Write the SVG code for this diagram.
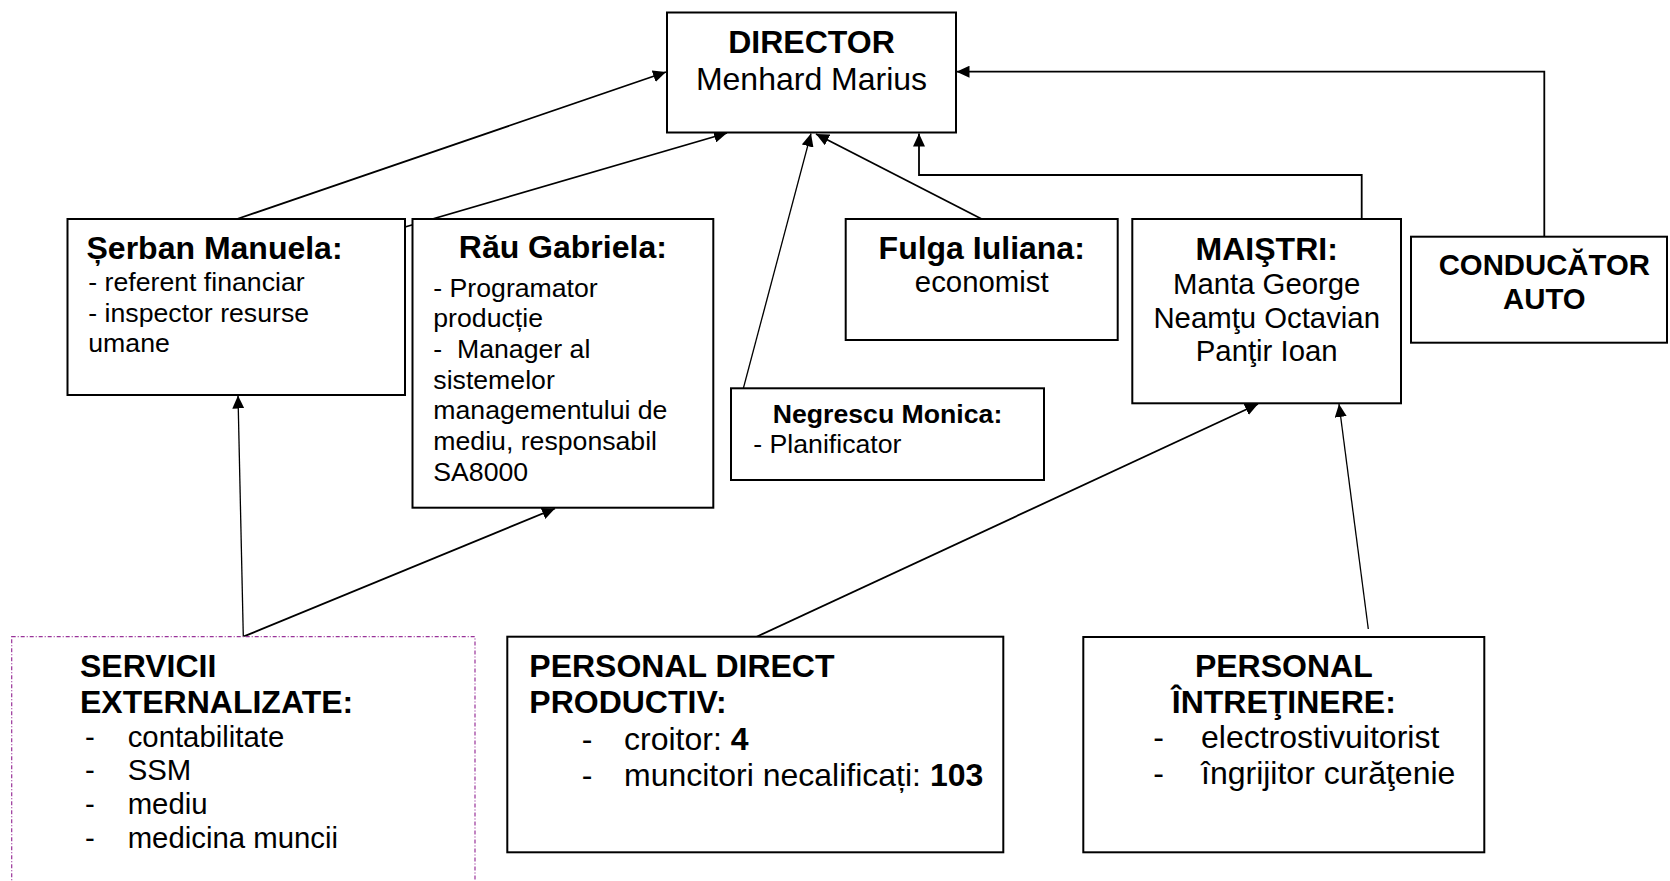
<svg xmlns="http://www.w3.org/2000/svg" width="1670" height="881" viewBox="0 0 1670 881">
<defs>
<marker id="ah" markerUnits="userSpaceOnUse" markerWidth="14" markerHeight="12" refX="13" refY="6" orient="auto">
<path d="M0,0 L13,6 L0,12 z" fill="#000"/>
</marker>
<style>
.box{fill:#fff;stroke:#000;stroke-width:2}
.dbox{fill:#fff;stroke:#993399;stroke-width:1.2;stroke-dasharray:4 2 1 2}
.c{fill:none;stroke:#000;stroke-width:1.8;marker-end:url(#ah)}
.t{stroke-width:1.3}
text{font-family:"Liberation Sans",Arial,sans-serif;fill:#000}
.h{font-weight:bold;font-size:32px}
.h2{font-weight:bold;font-size:29.33px}
.h3{font-weight:bold;font-size:26.67px}
.r32{font-size:32px}
.r29{font-size:29.33px}
.r27{font-size:26.67px}
.m{text-anchor:middle}
</style>
</defs>
<g id="connectors">
<line class="c" x1="237" y1="219" x2="666" y2="72"/>
<line class="c" x1="405" y1="227" x2="727" y2="133"/>
<line class="c t" x1="731.5" y1="433" x2="811" y2="133.5"/>
<line class="c" x1="981.7" y1="219" x2="816" y2="134"/>
<polyline class="c" points="1361.7,219 1361.7,175 919,175 919,133.5"/>
<polyline class="c" points="1544.3,237 1544.3,71.7 956.5,71.7"/>
<line class="c t" x1="243.3" y1="636.7" x2="238" y2="395.5"/>
<line class="c" x1="243.3" y1="636.7" x2="555" y2="508.5"/>
<line class="c" x1="756.7" y1="636.7" x2="1258" y2="404"/>
<line class="c t" x1="1368.3" y1="629" x2="1339" y2="404"/>
</g>
<g id="director">
<rect class="box" x="667" y="12.5" width="289" height="120"/>
<text class="h m" x="811.5" y="53.3">DIRECTOR</text>
<text class="r32 m" x="811.5" y="90">Menhard Marius</text>
</g>
<g id="serban">
<rect class="box" x="67.5" y="219" width="337.5" height="176"/>
<text class="h" x="86.5" y="259.3" font-size="31.4px">Șerban Manuela:</text>
<text class="r27" x="88.3" y="291">- referent financiar</text>
<text class="r27" x="88.3" y="321.7">- inspector resurse</text>
<text class="r27" x="88.3" y="352.3">umane</text>
</g>
<g id="rau">
<rect class="box" x="412.5" y="219" width="300.8" height="288.7"/>
<text class="h m" x="562.8" y="258.3">Rău Gabriela:</text>
<text class="r27" x="433.3" y="296.7">- Programator</text>
<text class="r27" x="433.3" y="327.3">producție</text>
<text class="r27" x="433.3" y="358" xml:space="preserve">-  Manager al</text>
<text class="r27" x="433.3" y="388.7">sistemelor</text>
<text class="r27" x="433.3" y="419.3">managementului de</text>
<text class="r27" x="433.3" y="450">mediu, responsabil</text>
<text class="r27" x="433.3" y="480.7">SA8000</text>
</g>
<g id="negrescu">
<rect class="box" x="731" y="388.3" width="313" height="91.7"/>
<text class="h3 m" x="887.5" y="423.3">Negrescu Monica:</text>
<text class="r27" x="753.3" y="453.3">- Planificator</text>
</g>
<g id="fulga">
<rect class="box" x="845.7" y="219" width="272" height="121"/>
<text class="h m" x="981.7" y="259.3">Fulga Iuliana:</text>
<text class="r29 m" x="981.7" y="291.7">economist</text>
</g>
<g id="maistri">
<rect class="box" x="1132.3" y="219" width="268.7" height="184.3"/>
<text class="h m" x="1266.7" y="260">MAIŞTRI:</text>
<text class="r29 m" x="1266.7" y="294">Manta George</text>
<text class="r29 m" x="1266.7" y="327.5">Neamţu Octavian</text>
<text class="r29 m" x="1266.7" y="361">Panţir Ioan</text>
</g>
<g id="conducator">
<rect class="box" x="1411" y="236.7" width="256" height="106"/>
<text class="h2 m" x="1544.3" y="275">CONDUCĂTOR</text>
<text class="h2 m" x="1544.3" y="308.5">AUTO</text>
</g>
<g id="servicii">
<rect class="dbox" x="11.7" y="636.7" width="463.3" height="260"/>
<text class="h" x="80" y="676.7">SERVICII</text>
<text class="h" x="80" y="713.3">EXTERNALIZATE:</text>
<text class="r29" x="85" y="746.7">-</text>
<text class="r29" x="127.7" y="746.7">contabilitate</text>
<text class="r29" x="85" y="780.4">-</text>
<text class="r29" x="127.7" y="780.4">SSM</text>
<text class="r29" x="85" y="814.1">-</text>
<text class="r29" x="127.7" y="814.1">mediu</text>
<text class="r29" x="85" y="847.8">-</text>
<text class="r29" x="127.7" y="847.8">medicina muncii</text>
</g>
<g id="personal-direct">
<rect class="box" x="507.3" y="636.7" width="496" height="215.6"/>
<text class="h" x="529.3" y="676.7">PERSONAL DIRECT</text>
<text class="h" x="529.3" y="713.3">PRODUCTIV:</text>
<text class="r32" x="581.7" y="749.5">-</text>
<text class="r32" x="624" y="749.5">croitor: <tspan font-weight="bold">4</tspan></text>
<text class="r32" x="581.7" y="786.3">-</text>
<text class="r32" x="624" y="786.3">muncitori necalificați: <tspan font-weight="bold">103</tspan></text>
</g>
<g id="personal-intretinere">
<rect class="box" x="1083.3" y="637" width="401" height="215.3"/>
<text class="h m" x="1283.8" y="676.7">PERSONAL</text>
<text class="h m" x="1283.8" y="713.3">ÎNTREŢINERE:</text>
<text class="r32" x="1153.3" y="747.5">-</text>
<text class="r32" x="1201" y="747.5">electrostivuitorist</text>
<text class="r32" x="1153.3" y="784.3">-</text>
<text class="r32" x="1201" y="784.3">îngrijitor curăţenie</text>
</g>
</svg>
